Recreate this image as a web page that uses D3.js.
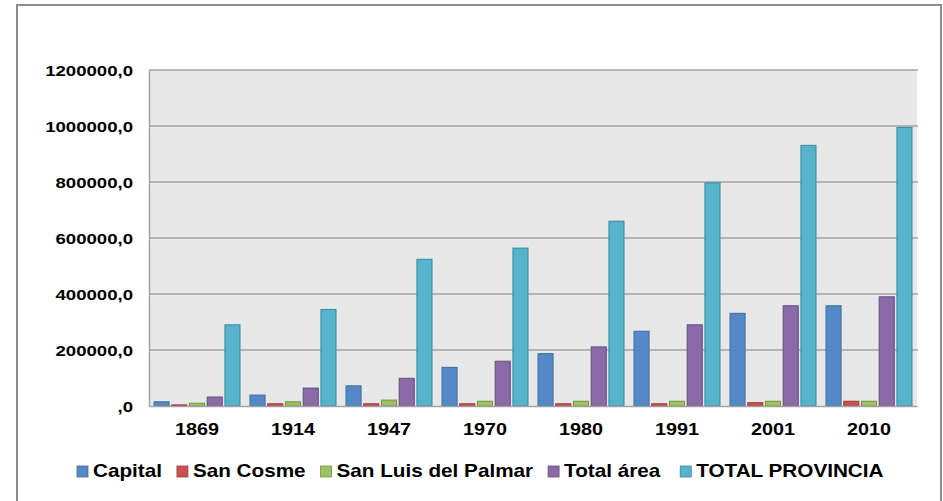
<!DOCTYPE html>
<html>
<head>
<meta charset="utf-8">
<script src="https://cdn.jsdelivr.net/npm/d3@7"></script>
<style>
  body { margin: 0; background: #fff; }
  text { font-family: "Liberation Sans", Arial, sans-serif; font-weight: bold; fill: #000; }
</style>
</head>
<body>
<script>
var width = 943, height = 501;

// data
var years = ["1869", "1914", "1947", "1970", "1980", "1991", "2001", "2010"];
var series = ["Capital", "San Cosme", "San Luis del Palmar", "Total área", "TOTAL PROVINCIA"];
var capital = [15000, 39000, 72000, 138000, 187000, 267000, 331000, 358000];
var sanCosme = [4000, 8000, 8000, 8000, 8000, 8000, 12000, 17000];
var sanLuis = [10000, 15000, 21000, 17000, 17000, 17000, 17000, 17000];
var totalArea = [32000, 64000, 99000, 160000, 211000, 290000, 358000, 390000];
var totalProvincia = [290000, 345000, 524000, 564000, 660000, 797000, 931000, 995000];
var yTicks = [0, 200000, 400000, 600000, 800000, 1000000, 1200000];

var values = [capital, sanCosme, sanLuis, totalArea, totalProvincia];
var fills = ["#5588c6", "#c9524f", "#9dc15e", "#8a6aa8", "#55b3cc"];
var strokes = ["#3f6c9f", "#9e3c3a", "#779440", "#644c80", "#3a8aa0"];

var sx = 1.2; // text in the original is stretched horizontally

var margin = {left: 149, top: 70, right: 26, bottom: 95};
var plotW = width - margin.left - margin.right,
    plotH = height - margin.top - margin.bottom;

var svg = d3.select("body").append("svg")
    .attr("width", width)
    .attr("height", height);

// chart frame
svg.append("rect")
    .attr("x", 17).attr("y", 5)
    .attr("width", 924).attr("height", 500)
    .attr("fill", "#fff")
    .attr("stroke", "#8c8c8c")
    .attr("stroke-width", 2);

var g = svg.append("g").attr("transform", "translate(" + margin.left + "," + margin.top + ")");

var x0 = d3.scaleBand().domain(years).range([0, plotW]);
var x1 = d3.scaleBand().domain(series).range([5, x0.bandwidth() - 5]).paddingInner(0.15);
var y = d3.scaleLinear().domain([0, 1200000]).range([plotH, 0]);

// plot background
g.append("rect")
    .attr("width", plotW).attr("height", plotH)
    .attr("fill", "#e8e8e8");

// gridlines
g.selectAll(".grid")
    .data(yTicks.slice(1))
    .enter().append("line")
    .attr("x1", 0).attr("x2", plotW + 1)
    .attr("y1", function(d) { return y(d); })
    .attr("y2", function(d) { return y(d); })
    .attr("stroke", "#a3a3a3")
    .attr("stroke-width", 1.5);

// bars
var groups = g.selectAll(".year")
    .data(years)
    .enter().append("g")
    .attr("transform", function(d) { return "translate(" + x0(d) + ",0)"; });

groups.selectAll("rect")
    .data(function(d, i) {
        return series.map(function(s, j) { return {s: s, j: j, v: values[j][i]}; });
    })
    .enter().append("rect")
    .attr("x", function(d) { return x1(d.s); })
    .attr("width", x1.bandwidth())
    .attr("y", function(d) { return y(d.v); })
    .attr("height", function(d) { return plotH - y(d.v); })
    .attr("fill", function(d) { return fills[d.j]; })
    .attr("stroke", function(d) { return strokes[d.j]; })
    .attr("stroke-width", 1);

// y axis
var yAxis = g.append("g")
    .call(d3.axisLeft(y).tickValues(yTicks).tickSize(0)
        .tickFormat(function(d) { return d === 0 ? ",0" : d + ",0"; }));
yAxis.select(".domain").attr("stroke", "#a3a3a3").attr("stroke-width", 1.5);
yAxis.selectAll("text")
    .attr("font-size", 15.5)
    .attr("font-family", "Liberation Sans, Arial, sans-serif")
    .attr("font-weight", "bold")
    .attr("fill", "#000")
    .attr("x", -16 / sx)
    .attr("dy", "0.35em")
    .attr("transform", "scale(" + sx + ",1)");

// x axis
var xAxis = g.append("g")
    .attr("transform", "translate(0," + plotH + ")")
    .call(d3.axisBottom(x0).tickSize(0));
xAxis.select(".domain").attr("stroke", "#a3a3a3").attr("stroke-width", 1.5);
xAxis.selectAll("text")
    .attr("font-size", 16.5)
    .attr("font-family", "Liberation Sans, Arial, sans-serif")
    .attr("font-weight", "bold")
    .attr("fill", "#000")
    .attr("y", 29)
    .attr("dy", 0)
    .attr("transform", "scale(" + sx + ",1)");

// legend
var lsx = 1.15;
var legend = svg.append("g").attr("transform", "translate(77,466)");
var lx = 0;
series.forEach(function(s, j) {
    var item = legend.append("g").attr("transform", "translate(" + lx + ",0)");
    item.append("rect")
        .attr("width", 11).attr("height", 11)
        .attr("fill", fills[j])
        .attr("stroke", strokes[j])
        .attr("stroke-width", 0.8);
    var t = item.append("text")
        .attr("x", 16 / lsx)
        .attr("y", 11)
        .attr("font-size", 18)
        .attr("transform", "scale(" + lsx + ",1)")
        .text(s);
    var w = t.node().getComputedTextLength() * lsx;
    lx += 16 + w + (j === 3 ? 20 : 15);
});
</script>
</body>
</html>
